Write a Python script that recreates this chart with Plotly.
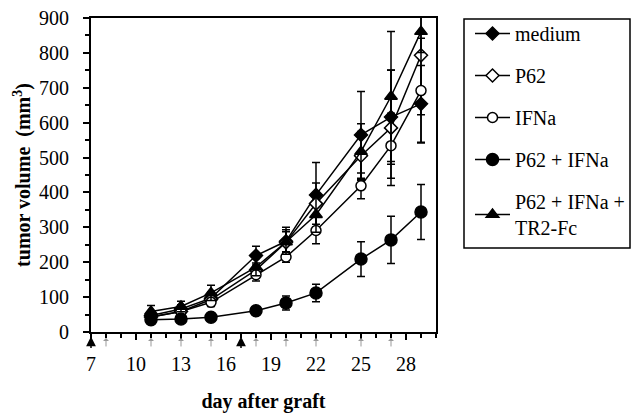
import plotly.graph_objects as go

days = [11, 13, 15, 18, 20, 22, 25, 27, 29]

medium = [47, 66, 97, 219, 260, 393, 565, 616, 654]
medium_err = [12, 12, 18, 27, 40, 93, 124, 135, 110]

p62 = [43, 59, 93, 178, 257, 368, 505, 585, 793]
p62_err = [10, 10, 15, 20, 30, 59, 70, 165, 170]

ifna = [43, 59, 85, 164, 215, 291, 419, 534, 692]
ifna_err = [8, 10, 12, 18, 15, 38, 37, 93, 150]

combo = [35, 37, 42, 61, 83, 112, 209, 264, 344]
combo_err = [5, 5, 6, 10, 20, 25, 50, 68, 79]

triple = [59, 73, 112, 186, 258, 336, 517, 675, 861]
triple_err = [17, 15, 22, 25, 35, 50, 80, 186, 60]

black_arrow_days = [7, 17]
gray_arrow_days = [8, 11, 13, 15, 18, 20, 22, 25, 27]

x_ticks = [7, 10, 13, 16, 19, 22, 25, 28]
y_ticks = [0, 100, 200, 300, 400, 500, 600, 700, 800, 900]

FONT = "Liberation Serif"

series = [
    ("medium", medium, medium_err, "diamond", "black", 10),
    ("P62", p62, p62_err, "diamond", "white", 10),
    ("IFNa", ifna, ifna_err, "circle", "white", 10),
    ("P62 + IFNa", combo, combo_err, "circle", "black", 12),
    ("P62 + IFNa +<br>TR2-Fc", triple, triple_err, "triangle-up", "black", 11),
]

fig = go.Figure()
for i, (name, vals, errs, sym, fill, size) in enumerate(series):
    fig.add_trace(go.Scatter(
        x=days, y=vals, name=name, mode="lines+markers",
        legendgroup=f"g{i}",
        line=dict(color="black", width=1.5),
        marker=dict(symbol=sym, color=fill, size=size,
                    line=dict(color="black", width=1.5)),
        error_y=dict(type="data", array=errs, visible=True,
                     color="black", thickness=1.5, width=4),
    ))

annotations = []
for d in black_arrow_days:
    annotations.append(dict(x=d, xref="x", y=-0.014, yref="paper",
                            ax=0, ay=13, showarrow=True, arrowhead=2,
                            arrowsize=1.3, arrowwidth=1.5, arrowcolor="black",
                            text=""))
for d in gray_arrow_days:
    annotations.append(dict(x=d, xref="x", y=-0.019, yref="paper",
                            ax=0, ay=10, showarrow=True, arrowhead=1,
                            arrowsize=1, arrowwidth=1, arrowcolor="#999999",
                            text=""))

# plot area: x 91..436 px, y 18..332 px  -> legend box 464..630, 19..248
PW, PH = 345.0, 314.0
def px_x(p):
    return (p - 91) / PW
def px_y(p):
    return (332 - p) / PH

shapes = [dict(type="rect", xref="paper", yref="paper",
               x0=px_x(464), x1=px_x(630), y0=px_y(248), y1=px_y(19),
               line=dict(color="black", width=1.5), fillcolor="rgba(0,0,0,0)")]

fig.update_layout(
    width=631, height=413,
    margin=dict(l=91, r=195, t=18, b=81, autoexpand=False),
    paper_bgcolor="white", plot_bgcolor="white",
    font=dict(family=FONT, size=20, color="black"),
    showlegend=True,
    legend=dict(x=px_x(470), y=px_y(14), xanchor="left", yanchor="top",
                borderwidth=0, maxheight=400,
                font=dict(family=FONT, size=20, color="black"),
                tracegroupgap=13, itemwidth=35, bgcolor="rgba(0,0,0,0)"),
    annotations=annotations,
    shapes=shapes,
    xaxis=dict(
        range=[7, 30], tickmode="array", tickvals=x_ticks, automargin=False,
        ticks="outside", ticklen=6, tickwidth=1.5, tickcolor="black",
        showline=True, linecolor="black", linewidth=2, mirror=True,
        showgrid=False, zeroline=False, ticklabelstandoff=7,
        minor=dict(dtick=1, tick0=7, ticks="outside", ticklen=4,
                   tickwidth=1.5, tickcolor="black", showgrid=False),
        title=dict(text="<b>day after graft</b>", standoff=27,
                   font=dict(family=FONT, size=20)),
        tickfont=dict(family=FONT, size=20),
    ),
    yaxis=dict(
        range=[0, 900], tickmode="array", tickvals=y_ticks, automargin=False,
        ticks="outside", ticklen=6, tickwidth=1.5, tickcolor="black",
        showline=True, linecolor="black", linewidth=2, mirror=True,
        showgrid=False, zeroline=False, ticklabelstandoff=10,
        minor=dict(dtick=50, ticks="outside", ticklen=4,
                   tickwidth=1.5, tickcolor="black", showgrid=False),
        title=dict(text="<b>tumor volume  (mm<sup>3</sup>)</b>", standoff=3,
                   font=dict(family=FONT, size=20)),
        tickfont=dict(family=FONT, size=20),
    ),
)

fig.write_html("out.html")
